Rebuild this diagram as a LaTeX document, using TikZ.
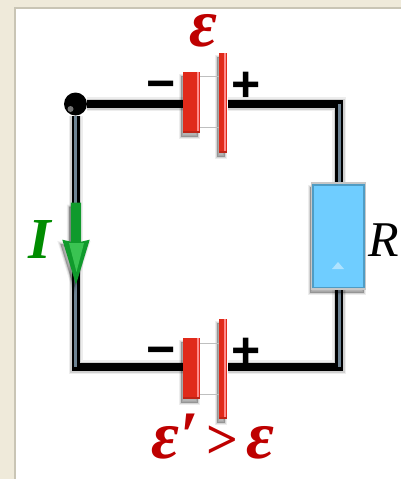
\documentclass[tikz,border=0pt]{standalone}
\usepackage{amsmath}
\usepackage{fontspec}
\usetikzlibrary{positioning,calc,shadows,shapes.arrows}
\newfontfamily\signfont{Liberation Sans}
\newfontfamily\labelfont{Liberation Serif}
\definecolor{pagetan}{HTML}{EFEADA}
\definecolor{pageedge}{HTML}{C9C5B5}
\definecolor{platered}{HTML}{E02A1A}
\definecolor{platepink}{HTML}{FF8A8A}
\definecolor{emfred}{HTML}{BE0000}
\definecolor{wireslate}{HTML}{6F8494}
\definecolor{resblue}{HTML}{6FCDFF}
\definecolor{resedge}{HTML}{4F9CC4}
\definecolor{arrowgreen}{HTML}{109A2C}
\definecolor{arrowglow}{HTML}{3AC352}
\definecolor{labelgreen}{HTML}{008C00}
\pgfdeclarelayer{page}
\pgfdeclarelayer{under}
\pgfsetlayers{page,under,main}
\tikzset{
  softshadow/.style={
    drop shadow={shadow xshift=-2pt,shadow yshift=-4pt,opacity=.07,fill=black,draw=black,line width=4pt},
    drop shadow={shadow xshift=-2pt,shadow yshift=-4pt,opacity=.1,fill=black,draw=black,line width=2pt},
    drop shadow={shadow xshift=-2pt,shadow yshift=-4pt,opacity=.15,fill=black}},
  plate/.style={rectangle,draw=none,fill=platered,inner sep=0pt,softshadow,
    path picture={
      \fill[platepink] ([xshift=-1pt]path picture bounding box.north east) rectangle
        ([xshift=-3.5pt]path picture bounding box.south east);
      \fill[black!15!platered] (path picture bounding box.south west) rectangle
        ([yshift=2pt]path picture bounding box.south east);}},
  thickplate/.style={plate,minimum width=17pt,minimum height=61pt},
  thinplate/.style={plate,minimum width=8pt,minimum height=100pt},
  signmark/.style={inner sep=0pt,font=\signfont\bfseries\fontsize{50}{50}\selectfont,text=black},
  wire/.style={line width=8pt,black,line join=miter},
  wireshade/.style={line join=miter,black,xshift=-3pt,yshift=-4pt},
  wireglint/.style={line width=3pt,wireslate,xshift=1.5pt},
  link/.style={line width=.5pt,black!25},
  emflabel/.style={inner sep=0pt,text=emfred,font=\labelfont\bfseries\itshape\fontsize{68}{68}\selectfont}
}
\begin{document}
\begin{tikzpicture}[x=1pt,y=-1pt]
\useasboundingbox (0,0) rectangle (401,479);
\begin{pgfonlayer}{page}
\fill[pagetan] (0,0) rectangle (401,479);
\fill[pageedge] (14,7) rectangle (401,479);
\fill[white] (15.5,8.5) rectangle (401,479);
\end{pgfonlayer}

% --- corners ---
\coordinate (tr) at (339,104);
\coordinate (br) at (339,367);
\coordinate (bl) at (75.5,367);

% --- parts ---
\node[thickplate] (negT) at (191.5,102.5) {};
\node[thinplate,right=19pt of negT] (posT) {};
\node[thickplate,below=205pt of negT] (negB) {};
\node[thinplate,right=19pt of negB] (posB) {};
\node[rectangle,fill=resblue,draw=black!22,line width=1.5pt,inner sep=0pt,softshadow,
  minimum width=54pt,minimum height=106pt,
  path picture={\draw[resedge,line width=5pt] (path picture bounding box.south west)
    rectangle (path picture bounding box.north east);}] (res) at (338.5,236) {};
\fill[white,opacity=.45] (332,269) -- (338,262) -- (344,269) -- cycle;
\node[circle,inner sep=0pt,minimum size=23pt,fill=black,
  path picture={\fill[black!55] ($(path picture bounding box.center)+(-5,5)$) circle (3pt);}] (tl) at (75.5,104) {};

% --- wires ---
\begin{pgfonlayer}{under}
\foreach \w/\o in {14/.07,11/.12,8/.2}{
  \draw[wireshade,line width=\w pt,opacity=\o] (tl) -- (tl -| negT.west);
  \draw[wireshade,line width=\w pt,opacity=\o] (tr -| posT.east) -- (tr) -- (tr |- res.north);
  \draw[wireshade,line width=\w pt,opacity=\o] (br |- res.south) -- (br) -- (br -| posB.east);
  \draw[wireshade,line width=\w pt,opacity=\o] (bl -| negB.west) -- (bl) -- (tl);
}
\draw[wire] (tl) -- (tl -| negT.west);
\draw[wire] (tr -| posT.east) -- (tr) -- (tr |- res.north);
\draw[wire] (br |- res.south) -- (br) -- (br -| posB.east);
\draw[wire] (bl -| negB.west) -- (bl) -- (tl);
\draw[wireglint] (tl.south) -- (bl);
\draw[wireglint] (tr) -- (tr |- res.north);
\draw[wireglint] (br |- res.south) -- (br);
\end{pgfonlayer}

\draw[link] ($(negT.east)+(0,-26)$) -- ($(posT.west)+(0,-26)$);
\draw[link] ($(negT.east)+(0,25)$) -- ($(posT.west)+(0,25)$);
\draw[link] ($(negB.east)+(0,-26)$) -- ($(posB.west)+(0,-26)$);
\draw[link] ($(negB.east)+(0,25)$) -- ($(posB.west)+(0,25)$);

% --- signs ---
\node[signmark] (minT) at (161.5,91) {−};
\node[signmark] (plusT) at (246.5,87) {+};
\node[signmark] (minB) at (161.5,357) {−};
\node[signmark] (plusB) at (246.5,353) {+};

% --- current ---
\node[single arrow,rotate=-90,fill=arrowgreen,inner sep=0pt,softshadow,
  minimum height=82pt,single arrow head extend=8.5pt,
  single arrow tip angle=34,single arrow head indent=2pt] (cur) at (76,235) {\rule{0pt}{10pt}};
\fill[arrowglow] (69,243) -- (84,243) -- (76.5,272) -- cycle;

% --- labels ---
\node[emflabel] (emfT) at (203,31) {ε};
\node[emflabel] (emfB) at (213,437) {ε′\hspace{8pt}{\upshape\fontsize{56}{56}\selectfont >}\hspace{8pt}ε};
\node[inner sep=0pt,text=labelgreen,font=\labelfont\bfseries\itshape\fontsize{58}{58}\selectfont] (curlab) at (40,240) {I};
\node[inner sep=0pt,text=black,font=\labelfont\itshape\fontsize{50}{50}\selectfont] (reslab) at (384,240) {R};
\end{tikzpicture}
\end{document}
